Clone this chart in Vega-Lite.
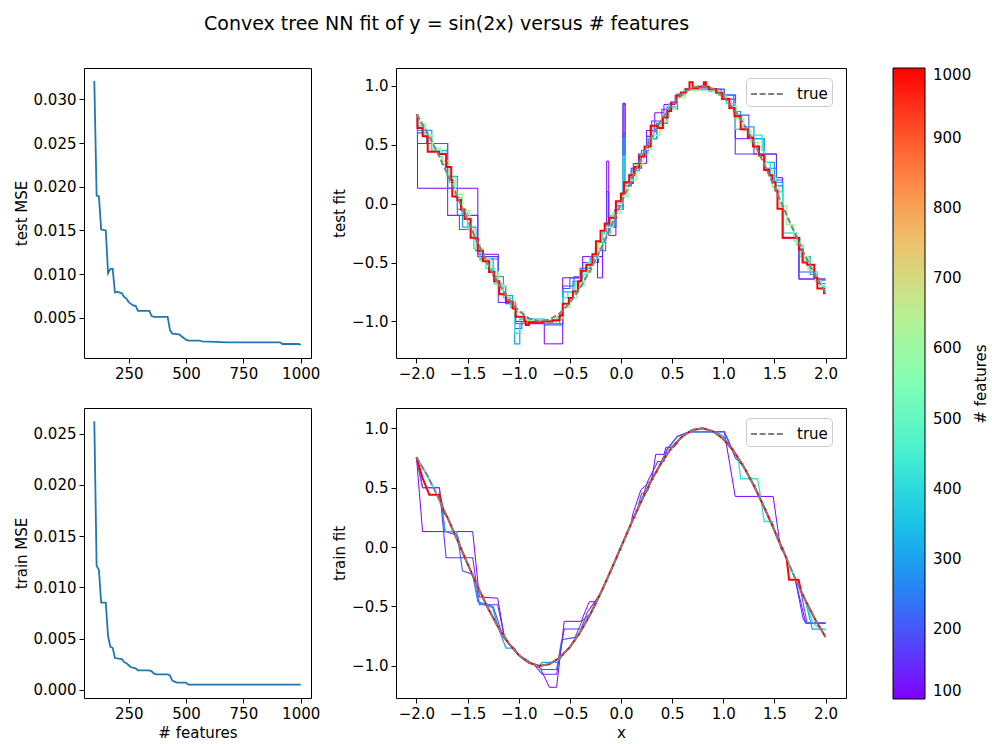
{
  "$schema": "https://vega.github.io/schema/vega-lite/v6.json",
  "padding": {"left": 13, "top": 14, "right": 0, "bottom": 5},
  "title": {"text": "Convex tree NN fit of y = sin(2x) versus # features", "fontSize": 19, "fontWeight": "normal", "font": "DejaVu Sans", "color": "#000", "anchor": "start", "frame": "group", "dx": 120, "offset": 34},
  "datasets": {
    "testMSE": [
      {"n":100,"mse":0.0321},{"n":110,"mse":0.0190},{"n":120,"mse":0.0189},{"n":130,"mse":0.0151},{"n":150,"mse":0.0150},{"n":160,"mse":0.0101},{"n":170,"mse":0.0106},{"n":180,"mse":0.0106},{"n":190,"mse":0.0079},{"n":200,"mse":0.0080},{"n":220,"mse":0.0078},{"n":230,"mse":0.0074},{"n":240,"mse":0.0072},{"n":250,"mse":0.0068},{"n":260,"mse":0.0066},{"n":270,"mse":0.0064},{"n":280,"mse":0.0064},{"n":290,"mse":0.0058},{"n":340,"mse":0.0058},{"n":350,"mse":0.0052},{"n":360,"mse":0.0051},{"n":420,"mse":0.0051},{"n":430,"mse":0.0036},{"n":440,"mse":0.0032},{"n":470,"mse":0.0031},{"n":480,"mse":0.0029},{"n":490,"mse":0.0027},{"n":500,"mse":0.0025},{"n":510,"mse":0.0024},{"n":560,"mse":0.0024},{"n":570,"mse":0.0023},{"n":680,"mse":0.0022},{"n":910,"mse":0.0022},{"n":920,"mse":0.0020},{"n":990,"mse":0.0020},{"n":1000,"mse":0.0019}
    ],
    "trainMSE": [
      {"n":100,"mse":0.0262},{"n":110,"mse":0.0121},{"n":120,"mse":0.0117},{"n":130,"mse":0.0085},{"n":150,"mse":0.0085},{"n":160,"mse":0.0052},{"n":170,"mse":0.0042},{"n":180,"mse":0.0041},{"n":190,"mse":0.0031},{"n":220,"mse":0.0030},{"n":230,"mse":0.0027},{"n":240,"mse":0.0026},{"n":250,"mse":0.0024},{"n":260,"mse":0.0022},{"n":280,"mse":0.0021},{"n":290,"mse":0.0019},{"n":340,"mse":0.0019},{"n":350,"mse":0.0018},{"n":360,"mse":0.0016},{"n":370,"mse":0.0015},{"n":420,"mse":0.0015},{"n":430,"mse":0.0014},{"n":440,"mse":0.0009},{"n":450,"mse":0.0008},{"n":460,"mse":0.0007},{"n":500,"mse":0.0007},{"n":510,"mse":0.0005},{"n":1000,"mse":0.0005}
    ],
    "trueCurve": [
      {"x":-2.0,"y":0.7568},{"x":-1.9,"y":0.6119},{"x":-1.8,"y":0.4425},{"x":-1.7,"y":0.2555},{"x":-1.6,"y":0.0584},{"x":-1.5,"y":-0.1411},{"x":-1.4,"y":-0.335},{"x":-1.3,"y":-0.5155},{"x":-1.2,"y":-0.6755},{"x":-1.1,"y":-0.8085},{"x":-1.0,"y":-0.9093},{"x":-0.9,"y":-0.9738},{"x":-0.8,"y":-0.9996},{"x":-0.7,"y":-0.9854},{"x":-0.6,"y":-0.932},{"x":-0.5,"y":-0.8415},{"x":-0.4,"y":-0.7174},{"x":-0.3,"y":-0.5646},{"x":-0.2,"y":-0.3894},{"x":-0.1,"y":-0.1987},{"x":0.0,"y":0.0},{"x":0.1,"y":0.1987},{"x":0.2,"y":0.3894},{"x":0.3,"y":0.5646},{"x":0.4,"y":0.7174},{"x":0.5,"y":0.8415},{"x":0.6,"y":0.932},{"x":0.7,"y":0.9854},{"x":0.8,"y":0.9996},{"x":0.9,"y":0.9738},{"x":1.0,"y":0.9093},{"x":1.1,"y":0.8085},{"x":1.2,"y":0.6755},{"x":1.3,"y":0.5155},{"x":1.4,"y":0.335},{"x":1.5,"y":0.1411},{"x":1.6,"y":-0.0584},{"x":1.7,"y":-0.2555},{"x":1.8,"y":-0.4425},{"x":1.9,"y":-0.6119},{"x":2.0,"y":-0.7568}
    ],
    "testFit": [
      {"features":100,"x":-2.0,"y":0.70},{"features":100,"x":-1.99,"y":0.13},{"features":100,"x":-1.40,"y":-0.43},{"features":100,"x":-1.20,"y":-0.70},{"features":100,"x":-1.13,"y":-0.85},{"features":100,"x":-1.03,"y":-1.00},{"features":100,"x":-0.75,"y":-1.19},{"features":100,"x":-0.57,"y":-0.63},{"features":100,"x":-0.375,"y":-0.45},{"features":100,"x":-0.23,"y":-0.63},{"features":100,"x":-0.18,"y":-0.30},{"features":100,"x":-0.14,"y":0.36},{"features":100,"x":-0.12,"y":-0.27},{"features":100,"x":-0.05,"y":-0.02},{"features":100,"x":0.02,"y":0.84},{"features":100,"x":0.04,"y":0.17},{"features":100,"x":0.12,"y":0.34},{"features":100,"x":0.25,"y":0.62},{"features":100,"x":0.33,"y":0.77},{"features":100,"x":0.42,"y":0.84},{"features":100,"x":0.53,"y":0.92},{"features":100,"x":0.63,"y":0.97},{"features":100,"x":0.98,"y":0.92},{"features":100,"x":1.117,"y":0.55},{"features":100,"x":1.30,"y":0.42},{"features":100,"x":1.52,"y":0.22},{"features":100,"x":1.58,"y":-0.29},{"features":100,"x":1.74,"y":-0.64},{"features":100,"x":2.0,"y":-0.64},
      {"features":150,"x":-2.0,"y":0.75},{"features":150,"x":-1.99,"y":0.51},{"features":150,"x":-1.695,"y":-0.10},{"features":150,"x":-1.40,"y":-0.45},{"features":150,"x":-1.20,"y":-0.84},{"features":150,"x":-1.03,"y":-1.02},{"features":150,"x":-0.75,"y":-1.02},{"features":150,"x":-0.57,"y":-0.70},{"features":150,"x":-0.46,"y":-0.62},{"features":150,"x":-0.375,"y":-0.50},{"features":150,"x":-0.22,"y":-0.45},{"features":150,"x":-0.18,"y":-0.25},{"features":150,"x":-0.14,"y":0.10},{"features":150,"x":-0.12,"y":-0.20},{"features":150,"x":-0.06,"y":-0.05},{"features":150,"x":0.02,"y":0.85},{"features":150,"x":0.04,"y":0.15},{"features":150,"x":0.10,"y":0.30},{"features":150,"x":0.17,"y":0.42},{"features":150,"x":0.25,"y":0.57},{"features":150,"x":0.30,"y":0.70},{"features":150,"x":0.40,"y":0.80},{"features":150,"x":0.55,"y":0.93},{"features":150,"x":0.62,"y":0.97},{"features":150,"x":1.01,"y":0.886},{"features":150,"x":1.117,"y":0.42},{"features":150,"x":1.52,"y":0.20},{"features":150,"x":1.58,"y":-0.29},{"features":150,"x":1.74,"y":-0.64},{"features":150,"x":2.0,"y":-0.64},
      {"features":200,"x":-2.0,"y":0.75},{"features":200,"x":-1.99,"y":0.60},{"features":200,"x":-1.90,"y":0.51},{"features":200,"x":-1.695,"y":0.13},{"features":200,"x":-1.60,"y":-0.10},{"features":200,"x":-1.58,"y":-0.22},{"features":200,"x":-1.42,"y":-0.40},{"features":200,"x":-1.38,"y":-0.47},{"features":200,"x":-1.20,"y":-0.70},{"features":200,"x":-1.12,"y":-0.84},{"features":200,"x":-1.04,"y":-1.06},{"features":200,"x":-0.97,"y":-1.00},{"features":200,"x":-0.75,"y":-1.03},{"features":200,"x":-0.57,"y":-0.72},{"features":200,"x":-0.50,"y":-0.63},{"features":200,"x":-0.40,"y":-0.55},{"features":200,"x":-0.30,"y":-0.47},{"features":200,"x":-0.22,"y":-0.40},{"features":200,"x":-0.15,"y":-0.20},{"features":200,"x":-0.05,"y":0.00},{"features":200,"x":0.02,"y":0.60},{"features":200,"x":0.04,"y":0.18},{"features":200,"x":0.12,"y":0.30},{"features":200,"x":0.20,"y":0.45},{"features":200,"x":0.27,"y":0.55},{"features":200,"x":0.35,"y":0.68},{"features":200,"x":0.45,"y":0.80},{"features":200,"x":0.55,"y":0.92},{"features":200,"x":0.62,"y":0.97},{"features":200,"x":1.01,"y":0.92},{"features":200,"x":1.12,"y":0.75},{"features":200,"x":1.25,"y":0.55},{"features":200,"x":1.40,"y":0.30},{"features":200,"x":1.52,"y":0.15},{"features":200,"x":1.58,"y":-0.29},{"features":200,"x":1.74,"y":-0.58},{"features":200,"x":1.90,"y":-0.65},{"features":200,"x":2.0,"y":-0.65},
      {"features":300,"x":-2.0,"y":0.72},{"features":300,"x":-1.99,"y":0.62},{"features":300,"x":-1.85,"y":0.45},{"features":300,"x":-1.70,"y":0.23},{"features":300,"x":-1.60,"y":-0.05},{"features":300,"x":-1.55,"y":-0.20},{"features":300,"x":-1.42,"y":-0.35},{"features":300,"x":-1.38,"y":-0.47},{"features":300,"x":-1.25,"y":-0.62},{"features":300,"x":-1.15,"y":-0.78},{"features":300,"x":-1.06,"y":-0.88},{"features":300,"x":-1.04,"y":-1.19},{"features":300,"x":-0.99,"y":-0.98},{"features":300,"x":-0.75,"y":-1.02},{"features":300,"x":-0.60,"y":-0.94},{"features":300,"x":-0.57,"y":-0.75},{"features":300,"x":-0.47,"y":-0.66},{"features":300,"x":-0.38,"y":-0.55},{"features":300,"x":-0.30,"y":-0.45},{"features":300,"x":-0.22,"y":-0.33},{"features":300,"x":-0.15,"y":-0.18},{"features":300,"x":-0.05,"y":-0.05},{"features":300,"x":0.02,"y":0.55},{"features":300,"x":0.04,"y":0.17},{"features":300,"x":0.10,"y":0.28},{"features":300,"x":0.18,"y":0.42},{"features":300,"x":0.26,"y":0.55},{"features":300,"x":0.35,"y":0.68},{"features":300,"x":0.45,"y":0.82},{"features":300,"x":0.55,"y":0.92},{"features":300,"x":0.62,"y":0.96},{"features":300,"x":0.85,"y":0.97},{"features":300,"x":0.97,"y":0.92},{"features":300,"x":1.10,"y":0.78},{"features":300,"x":1.17,"y":0.65},{"features":300,"x":1.30,"y":0.55},{"features":300,"x":1.40,"y":0.35},{"features":300,"x":1.50,"y":0.18},{"features":300,"x":1.58,"y":-0.29},{"features":300,"x":1.75,"y":-0.45},{"features":300,"x":1.85,"y":-0.60},{"features":300,"x":1.92,"y":-0.68},{"features":300,"x":2.0,"y":-0.68},
      {"features":420,"x":-2.0,"y":0.72},{"features":420,"x":-1.99,"y":0.66},{"features":420,"x":-1.93,"y":0.58},{"features":420,"x":-1.85,"y":0.45},{"features":420,"x":-1.75,"y":0.33},{"features":420,"x":-1.68,"y":0.18},{"features":420,"x":-1.62,"y":0.05},{"features":420,"x":-1.56,"y":-0.08},{"features":420,"x":-1.50,"y":-0.22},{"features":420,"x":-1.44,"y":-0.38},{"features":420,"x":-1.38,"y":-0.48},{"features":420,"x":-1.32,"y":-0.55},{"features":420,"x":-1.24,"y":-0.68},{"features":420,"x":-1.15,"y":-0.80},{"features":420,"x":-1.08,"y":-0.88},{"features":420,"x":-1.04,"y":-1.10},{"features":420,"x":-0.99,"y":-0.98},{"features":420,"x":-0.80,"y":-1.00},{"features":420,"x":-0.62,"y":-0.96},{"features":420,"x":-0.57,"y":-0.80},{"features":420,"x":-0.52,"y":-0.75},{"features":420,"x":-0.45,"y":-0.68},{"features":420,"x":-0.40,"y":-0.60},{"features":420,"x":-0.33,"y":-0.50},{"features":420,"x":-0.25,"y":-0.38},{"features":420,"x":-0.18,"y":-0.25},{"features":420,"x":-0.10,"y":-0.10},{"features":420,"x":-0.05,"y":0.0},{"features":420,"x":0.02,"y":0.40},{"features":420,"x":0.04,"y":0.15},{"features":420,"x":0.08,"y":0.25},{"features":420,"x":0.14,"y":0.33},{"features":420,"x":0.20,"y":0.42},{"features":420,"x":0.26,"y":0.55},{"features":420,"x":0.32,"y":0.66},{"features":420,"x":0.40,"y":0.75},{"features":420,"x":0.47,"y":0.85},{"features":420,"x":0.55,"y":0.92},{"features":420,"x":0.63,"y":0.96},{"features":420,"x":0.86,"y":0.95},{"features":420,"x":0.95,"y":0.92},{"features":420,"x":1.03,"y":0.85},{"features":420,"x":1.117,"y":0.63},{"features":420,"x":1.24,"y":0.58},{"features":420,"x":1.38,"y":0.45},{"features":420,"x":1.40,"y":0.35},{"features":420,"x":1.46,"y":0.22},{"features":420,"x":1.52,"y":0.10},{"features":420,"x":1.58,"y":-0.25},{"features":420,"x":1.72,"y":-0.35},{"features":420,"x":1.78,"y":-0.48},{"features":420,"x":1.85,"y":-0.58},{"features":420,"x":1.92,"y":-0.66},{"features":420,"x":1.96,"y":-0.70},{"features":420,"x":2.0,"y":-0.70},
      {"features":600,"x":-2.0,"y":0.74},{"features":600,"x":-1.97,"y":0.68},{"features":600,"x":-1.91,"y":0.58},{"features":600,"x":-1.84,"y":0.47},{"features":600,"x":-1.76,"y":0.36},{"features":600,"x":-1.68,"y":0.22},{"features":600,"x":-1.62,"y":0.08},{"features":600,"x":-1.55,"y":-0.06},{"features":600,"x":-1.48,"y":-0.22},{"features":600,"x":-1.42,"y":-0.38},{"features":600,"x":-1.35,"y":-0.47},{"features":600,"x":-1.28,"y":-0.58},{"features":600,"x":-1.20,"y":-0.70},{"features":600,"x":-1.12,"y":-0.82},{"features":600,"x":-1.04,"y":-0.92},{"features":600,"x":-0.95,"y":-0.99},{"features":600,"x":-0.65,"y":-0.97},{"features":600,"x":-0.57,"y":-0.88},{"features":600,"x":-0.50,"y":-0.80},{"features":600,"x":-0.43,"y":-0.70},{"features":600,"x":-0.36,"y":-0.58},{"features":600,"x":-0.29,"y":-0.46},{"features":600,"x":-0.22,"y":-0.32},{"features":600,"x":-0.15,"y":-0.20},{"features":600,"x":-0.08,"y":-0.08},{"features":600,"x":0.0,"y":0.06},{"features":600,"x":0.07,"y":0.20},{"features":600,"x":0.15,"y":0.33},{"features":600,"x":0.22,"y":0.46},{"features":600,"x":0.30,"y":0.58},{"features":600,"x":0.38,"y":0.70},{"features":600,"x":0.46,"y":0.80},{"features":600,"x":0.54,"y":0.90},{"features":600,"x":0.62,"y":0.96},{"features":600,"x":0.90,"y":0.95},{"features":600,"x":0.98,"y":0.90},{"features":600,"x":1.06,"y":0.82},{"features":600,"x":1.13,"y":0.72},{"features":600,"x":1.20,"y":0.62},{"features":600,"x":1.27,"y":0.52},{"features":600,"x":1.34,"y":0.40},{"features":600,"x":1.41,"y":0.28},{"features":600,"x":1.48,"y":0.14},{"features":600,"x":1.55,"y":-0.02},{"features":600,"x":1.62,"y":-0.18},{"features":600,"x":1.69,"y":-0.32},{"features":600,"x":1.76,"y":-0.45},{"features":600,"x":1.83,"y":-0.56},{"features":600,"x":1.90,"y":-0.66},{"features":600,"x":1.96,"y":-0.73},{"features":600,"x":2.0,"y":-0.73},
      {"features":1000,"x":-2.0,"y":0.75},{"features":1000,"x":-1.99,"y":0.64},{"features":1000,"x":-1.94,"y":0.57},{"features":1000,"x":-1.89,"y":0.44},{"features":1000,"x":-1.78,"y":0.42},{"features":1000,"x":-1.71,"y":0.31},{"features":1000,"x":-1.66,"y":0.20},{"features":1000,"x":-1.65,"y":0.06},{"features":1000,"x":-1.60,"y":0.03},{"features":1000,"x":-1.565,"y":-0.05},{"features":1000,"x":-1.53,"y":-0.13},{"features":1000,"x":-1.47,"y":-0.29},{"features":1000,"x":-1.42,"y":-0.30},{"features":1000,"x":-1.40,"y":-0.40},{"features":1000,"x":-1.35,"y":-0.49},{"features":1000,"x":-1.29,"y":-0.58},{"features":1000,"x":-1.24,"y":-0.66},{"features":1000,"x":-1.19,"y":-0.77},{"features":1000,"x":-1.125,"y":-0.83},{"features":1000,"x":-1.06,"y":-0.89},{"features":1000,"x":-1.03,"y":-0.96},{"features":1000,"x":-0.945,"y":-1.00},{"features":1000,"x":-0.93,"y":-1.03},{"features":1000,"x":-0.90,"y":-1.01},{"features":1000,"x":-0.77,"y":-1.00},{"features":1000,"x":-0.67,"y":-0.99},{"features":1000,"x":-0.60,"y":-0.95},{"features":1000,"x":-0.57,"y":-0.85},{"features":1000,"x":-0.51,"y":-0.80},{"features":1000,"x":-0.47,"y":-0.745},{"features":1000,"x":-0.42,"y":-0.66},{"features":1000,"x":-0.39,"y":-0.57},{"features":1000,"x":-0.34,"y":-0.52},{"features":1000,"x":-0.28,"y":-0.43},{"features":1000,"x":-0.245,"y":-0.32},{"features":1000,"x":-0.20,"y":-0.23},{"features":1000,"x":-0.16,"y":-0.17},{"features":1000,"x":-0.115,"y":-0.12},{"features":1000,"x":-0.05,"y":0.02},{"features":1000,"x":0.0,"y":0.085},{"features":1000,"x":0.03,"y":0.18},{"features":1000,"x":0.08,"y":0.24},{"features":1000,"x":0.13,"y":0.31},{"features":1000,"x":0.18,"y":0.40},{"features":1000,"x":0.23,"y":0.485},{"features":1000,"x":0.29,"y":0.66},{"features":1000,"x":0.36,"y":0.64},{"features":1000,"x":0.41,"y":0.73},{"features":1000,"x":0.455,"y":0.785},{"features":1000,"x":0.49,"y":0.857},{"features":1000,"x":0.54,"y":0.914},{"features":1000,"x":0.585,"y":0.943},{"features":1000,"x":0.634,"y":0.97},{"features":1000,"x":0.67,"y":1.03},{"features":1000,"x":0.70,"y":0.98},{"features":1000,"x":0.75,"y":0.99},{"features":1000,"x":0.81,"y":1.03},{"features":1000,"x":0.83,"y":0.99},{"features":1000,"x":0.86,"y":0.97},{"features":1000,"x":0.93,"y":0.94},{"features":1000,"x":0.99,"y":0.886},{"features":1000,"x":1.06,"y":0.81},{"features":1000,"x":1.11,"y":0.74},{"features":1000,"x":1.17,"y":0.63},{"features":1000,"x":1.24,"y":0.56},{"features":1000,"x":1.29,"y":0.485},{"features":1000,"x":1.35,"y":0.41},{"features":1000,"x":1.40,"y":0.285},{"features":1000,"x":1.45,"y":0.24},{"features":1000,"x":1.48,"y":0.18},{"features":1000,"x":1.51,"y":0.11},{"features":1000,"x":1.53,"y":-0.045},{"features":1000,"x":1.58,"y":-0.29},{"features":1000,"x":1.74,"y":-0.39},{"features":1000,"x":1.775,"y":-0.50},{"features":1000,"x":1.82,"y":-0.52},{"features":1000,"x":1.89,"y":-0.63},{"features":1000,"x":1.92,"y":-0.72},{"features":1000,"x":1.985,"y":-0.76},{"features":1000,"x":2.0,"y":-0.76}
    ],
    "trainFit": [
      {"features":100,"x":-2.0,"y":0.757},{"features":100,"x":-1.94,"y":0.13},{"features":100,"x":-1.45,"y":0.13},{"features":100,"x":-1.385,"y":-0.42},{"features":100,"x":-1.206,"y":-0.43},{"features":100,"x":-1.14,"y":-0.76},{"features":100,"x":-1.0,"y":-0.91},{"features":100,"x":-0.9,"y":-0.97},{"features":100,"x":-0.8,"y":-1.0},{"features":100,"x":-0.70,"y":-1.18},{"features":100,"x":-0.63,"y":-1.18},{"features":100,"x":-0.555,"y":-0.625},{"features":100,"x":-0.39,"y":-0.625},{"features":100,"x":-0.31,"y":-0.46},{"features":100,"x":-0.25,"y":-0.46},{"features":100,"x":-0.2,"y":-0.39},{"features":100,"x":-0.1,"y":-0.2},{"features":100,"x":0.0,"y":0.0},{"features":100,"x":0.1,"y":0.2},{"features":100,"x":0.113,"y":0.27},{"features":100,"x":0.194,"y":0.48},{"features":100,"x":0.30,"y":0.565},{"features":100,"x":0.34,"y":0.78},{"features":100,"x":0.42,"y":0.78},{"features":100,"x":0.44,"y":0.84},{"features":100,"x":0.52,"y":0.84},{"features":100,"x":0.60,"y":0.93},{"features":100,"x":0.667,"y":0.97},{"features":100,"x":1.01,"y":0.97},{"features":100,"x":1.117,"y":0.426},{"features":100,"x":1.488,"y":0.426},{"features":100,"x":1.56,"y":-0.01},{"features":100,"x":1.6,"y":-0.06},{"features":100,"x":1.7,"y":-0.26},{"features":100,"x":1.807,"y":-0.64},{"features":100,"x":2.0,"y":-0.64},
      {"features":150,"x":-2.0,"y":0.757},{"features":150,"x":-1.94,"y":0.50},{"features":150,"x":-1.776,"y":0.50},{"features":150,"x":-1.71,"y":-0.09},{"features":150,"x":-1.45,"y":-0.09},{"features":150,"x":-1.385,"y":-0.485},{"features":150,"x":-1.206,"y":-0.485},{"features":150,"x":-1.14,"y":-0.76},{"features":150,"x":-1.0,"y":-0.91},{"features":150,"x":-0.85,"y":-0.99},{"features":150,"x":-0.77,"y":-1.07},{"features":150,"x":-0.63,"y":-1.07},{"features":150,"x":-0.555,"y":-0.69},{"features":150,"x":-0.39,"y":-0.69},{"features":150,"x":-0.33,"y":-0.55},{"features":150,"x":-0.2,"y":-0.39},{"features":150,"x":-0.1,"y":-0.2},{"features":150,"x":0.0,"y":0.0},{"features":150,"x":0.1,"y":0.2},{"features":150,"x":0.2,"y":0.39},{"features":150,"x":0.26,"y":0.55},{"features":150,"x":0.36,"y":0.72},{"features":150,"x":0.42,"y":0.72},{"features":150,"x":0.45,"y":0.82},{"features":150,"x":0.55,"y":0.93},{"features":150,"x":0.667,"y":0.97},{"features":150,"x":1.01,"y":0.97},{"features":150,"x":1.05,"y":0.90},{"features":150,"x":1.117,"y":0.75},{"features":150,"x":1.2,"y":0.676},{"features":150,"x":1.3,"y":0.52},{"features":150,"x":1.4,"y":0.335},{"features":150,"x":1.5,"y":0.141},{"features":150,"x":1.6,"y":-0.058},{"features":150,"x":1.7,"y":-0.26},{"features":150,"x":1.78,"y":-0.60},{"features":150,"x":1.807,"y":-0.64},{"features":150,"x":2.0,"y":-0.64},
      {"features":200,"x":-2.0,"y":0.757},{"features":200,"x":-1.94,"y":0.50},{"features":200,"x":-1.776,"y":0.50},{"features":200,"x":-1.72,"y":0.13},{"features":200,"x":-1.60,"y":0.10},{"features":200,"x":-1.55,"y":-0.20},{"features":200,"x":-1.45,"y":-0.23},{"features":200,"x":-1.40,"y":-0.46},{"features":200,"x":-1.25,"y":-0.50},{"features":200,"x":-1.15,"y":-0.76},{"features":200,"x":-1.0,"y":-0.91},{"features":200,"x":-0.85,"y":-0.99},{"features":200,"x":-0.77,"y":-1.03},{"features":200,"x":-0.63,"y":-1.03},{"features":200,"x":-0.58,"y":-0.78},{"features":200,"x":-0.45,"y":-0.76},{"features":200,"x":-0.38,"y":-0.62},{"features":200,"x":-0.30,"y":-0.56},{"features":200,"x":-0.2,"y":-0.39},{"features":200,"x":-0.1,"y":-0.2},{"features":200,"x":0.0,"y":0.0},{"features":200,"x":0.1,"y":0.2},{"features":200,"x":0.16,"y":0.32},{"features":200,"x":0.2,"y":0.45},{"features":200,"x":0.26,"y":0.47},{"features":200,"x":0.30,"y":0.58},{"features":200,"x":0.36,"y":0.66},{"features":200,"x":0.45,"y":0.82},{"features":200,"x":0.55,"y":0.93},{"features":200,"x":0.667,"y":0.97},{"features":200,"x":1.01,"y":0.97},{"features":200,"x":1.06,"y":0.87},{"features":200,"x":1.2,"y":0.676},{"features":200,"x":1.3,"y":0.52},{"features":200,"x":1.4,"y":0.335},{"features":200,"x":1.5,"y":0.141},{"features":200,"x":1.6,"y":-0.058},{"features":200,"x":1.7,"y":-0.26},{"features":200,"x":1.76,"y":-0.38},{"features":200,"x":1.82,"y":-0.64},{"features":200,"x":2.0,"y":-0.64},
      {"features":300,"x":-2.0,"y":0.757},{"features":300,"x":-1.9,"y":0.61},{"features":300,"x":-1.8,"y":0.44},{"features":300,"x":-1.75,"y":0.33},{"features":300,"x":-1.72,"y":0.13},{"features":300,"x":-1.61,"y":0.13},{"features":300,"x":-1.55,"y":-0.05},{"features":300,"x":-1.5,"y":-0.14},{"features":300,"x":-1.45,"y":-0.24},{"features":300,"x":-1.385,"y":-0.47},{"features":300,"x":-1.255,"y":-0.51},{"features":300,"x":-1.2,"y":-0.68},{"features":300,"x":-1.125,"y":-0.85},{"features":300,"x":-1.04,"y":-0.85},{"features":300,"x":-1.0,"y":-0.91},{"features":300,"x":-0.9,"y":-0.974},{"features":300,"x":-0.8,"y":-1.0},{"features":300,"x":-0.77,"y":-0.97},{"features":300,"x":-0.62,"y":-0.97},{"features":300,"x":-0.55,"y":-0.88},{"features":300,"x":-0.5,"y":-0.84},{"features":300,"x":-0.4,"y":-0.72},{"features":300,"x":-0.3,"y":-0.565},{"features":300,"x":-0.2,"y":-0.39},{"features":300,"x":-0.1,"y":-0.2},{"features":300,"x":0.0,"y":0.0},{"features":300,"x":0.1,"y":0.2},{"features":300,"x":0.2,"y":0.389},{"features":300,"x":0.3,"y":0.565},{"features":300,"x":0.4,"y":0.717},{"features":300,"x":0.5,"y":0.84},{"features":300,"x":0.6,"y":0.93},{"features":300,"x":0.667,"y":0.97},{"features":300,"x":0.93,"y":0.97},{"features":300,"x":1.0,"y":0.93},{"features":300,"x":1.1,"y":0.81},{"features":300,"x":1.2,"y":0.676},{"features":300,"x":1.3,"y":0.52},{"features":300,"x":1.4,"y":0.335},{"features":300,"x":1.5,"y":0.141},{"features":300,"x":1.6,"y":-0.058},{"features":300,"x":1.7,"y":-0.26},{"features":300,"x":1.8,"y":-0.44},{"features":300,"x":1.87,"y":-0.69},{"features":300,"x":2.0,"y":-0.69},
      {"features":420,"x":-2.0,"y":0.757},{"features":420,"x":-1.9,"y":0.61},{"features":420,"x":-1.8,"y":0.44},{"features":420,"x":-1.7,"y":0.256},{"features":420,"x":-1.6,"y":0.058},{"features":420,"x":-1.5,"y":-0.141},{"features":420,"x":-1.4,"y":-0.335},{"features":420,"x":-1.3,"y":-0.516},{"features":420,"x":-1.2,"y":-0.676},{"features":420,"x":-1.1,"y":-0.81},{"features":420,"x":-1.0,"y":-0.91},{"features":420,"x":-0.9,"y":-0.974},{"features":420,"x":-0.8,"y":-1.0},{"features":420,"x":-0.7,"y":-0.985},{"features":420,"x":-0.6,"y":-0.932},{"features":420,"x":-0.5,"y":-0.842},{"features":420,"x":-0.4,"y":-0.717},{"features":420,"x":-0.3,"y":-0.565},{"features":420,"x":-0.2,"y":-0.389},{"features":420,"x":-0.1,"y":-0.199},{"features":420,"x":0.0,"y":0.0},{"features":420,"x":0.1,"y":0.199},{"features":420,"x":0.2,"y":0.389},{"features":420,"x":0.3,"y":0.565},{"features":420,"x":0.4,"y":0.717},{"features":420,"x":0.5,"y":0.842},{"features":420,"x":0.6,"y":0.932},{"features":420,"x":0.7,"y":0.985},{"features":420,"x":0.8,"y":1.0},{"features":420,"x":0.9,"y":0.974},{"features":420,"x":1.0,"y":0.909},{"features":420,"x":1.1,"y":0.81},{"features":420,"x":1.15,"y":0.72},{"features":420,"x":1.17,"y":0.575},{"features":420,"x":1.335,"y":0.575},{"features":420,"x":1.36,"y":0.45},{"features":420,"x":1.40,"y":0.215},{"features":420,"x":1.48,"y":0.215},{"features":420,"x":1.52,"y":0.08},{"features":420,"x":1.6,"y":-0.058},{"features":420,"x":1.7,"y":-0.256},{"features":420,"x":1.8,"y":-0.443},{"features":420,"x":1.87,"y":-0.62},{"features":420,"x":1.9,"y":-0.66},{"features":420,"x":2.0,"y":-0.70},
      {"features":1000,"x":-2.0,"y":0.757},{"features":1000,"x":-1.94,"y":0.58},{"features":1000,"x":-1.874,"y":0.44},{"features":1000,"x":-1.776,"y":0.44},{"features":1000,"x":-1.73,"y":0.29},{"features":1000,"x":-1.7,"y":0.2555},{"features":1000,"x":-1.6,"y":0.058},{"features":1000,"x":-1.5,"y":-0.141},{"features":1000,"x":-1.4,"y":-0.335},{"features":1000,"x":-1.3,"y":-0.5155},{"features":1000,"x":-1.2,"y":-0.6755},{"features":1000,"x":-1.1,"y":-0.8085},{"features":1000,"x":-1.0,"y":-0.909},{"features":1000,"x":-0.9,"y":-0.974},{"features":1000,"x":-0.8,"y":-1.0},{"features":1000,"x":-0.7,"y":-0.985},{"features":1000,"x":-0.6,"y":-0.932},{"features":1000,"x":-0.5,"y":-0.8415},{"features":1000,"x":-0.4,"y":-0.717},{"features":1000,"x":-0.3,"y":-0.565},{"features":1000,"x":-0.2,"y":-0.389},{"features":1000,"x":-0.1,"y":-0.199},{"features":1000,"x":0.0,"y":0.0},{"features":1000,"x":0.1,"y":0.199},{"features":1000,"x":0.2,"y":0.389},{"features":1000,"x":0.3,"y":0.565},{"features":1000,"x":0.4,"y":0.717},{"features":1000,"x":0.5,"y":0.8415},{"features":1000,"x":0.6,"y":0.932},{"features":1000,"x":0.7,"y":0.985},{"features":1000,"x":0.8,"y":1.0},{"features":1000,"x":0.9,"y":0.974},{"features":1000,"x":1.0,"y":0.909},{"features":1000,"x":1.1,"y":0.8085},{"features":1000,"x":1.2,"y":0.6755},{"features":1000,"x":1.3,"y":0.5155},{"features":1000,"x":1.4,"y":0.335},{"features":1000,"x":1.5,"y":0.141},{"features":1000,"x":1.6,"y":-0.058},{"features":1000,"x":1.62,"y":-0.10},{"features":1000,"x":1.644,"y":-0.275},{"features":1000,"x":1.736,"y":-0.275},{"features":1000,"x":1.76,"y":-0.37},{"features":1000,"x":1.8,"y":-0.4425},{"features":1000,"x":1.9,"y":-0.612},{"features":1000,"x":2.0,"y":-0.757}
    ]
  },
  "columns": 2,
  "spacing": {"row": 50, "column": 85},
  "bounds": "flush",
  "resolve": {"legend": {"strokeDash": "independent"}},
  "concat": [
    {
      "width": 227, "height": 290,
      "data": {"name": "testMSE"},
      "mark": {"type": "line", "color": "#1f77b4", "strokeWidth": 1.8},
      "encoding": {
        "x": {"field": "n", "type": "quantitative", "scale": {"domain": [55, 1045], "nice": false, "zero": false}, "axis": {"values": [250, 500, 750, 1000], "format": "d", "title": null}},
        "y": {"field": "mse", "type": "quantitative", "scale": {"domain": [0.0004, 0.0336], "nice": false, "zero": false}, "axis": {"values": [0.005, 0.01, 0.015, 0.02, 0.025, 0.03], "format": ".3f", "title": "test MSE"}}
      }
    },
    {
      "width": 450, "height": 290,
      "layer": [
        {
          "data": {"name": "testFit"},
          "mark": {"type": "line", "interpolate": "step-after"},
          "encoding": {
            "x": {"field": "x", "type": "quantitative", "scale": {"domain": [-2.2, 2.2], "nice": false, "zero": false}, "axis": {"values": [-2, -1.5, -1, -0.5, 0, 0.5, 1, 1.5, 2], "format": ".1f", "title": null}},
            "y": {"field": "y", "type": "quantitative", "scale": {"domain": [-1.31, 1.15], "nice": false, "zero": false}, "axis": {"values": [-1, -0.5, 0, 0.5, 1], "format": ".1f", "title": "test fit"}},
            "detail": {"field": "features", "type": "quantitative"},
            "color": {"field": "features", "type": "quantitative",
              "scale": {"domain": [100, 190, 280, 370, 460, 550, 640, 730, 820, 910, 1000], "range": ["#8000ff", "#4d4ffc", "#1a96f3", "#1acee3", "#4df3ce", "#80ffb4", "#b3f396", "#e6ce74", "#ff964f", "#ff4f28", "#ff0000"], "interpolate": "rgb"},
              "legend": {"title": "# features", "orient": "right", "offset": 46, "padding": 0, "strokeColor": "transparent", "fillColor": "transparent", "direction": "vertical", "gradientLength": 631, "gradientThickness": 32, "gradientStrokeColor": "#000", "gradientStrokeWidth": 1, "values": [100, 200, 300, 400, 500, 600, 700, 800, 900, 1000], "format": "d", "labelOverlap": false, "labelOffset": 8, "labelFontSize": 15, "titleFontSize": 15, "titleOrient": "right", "titleAnchor": "middle", "titlePadding": 3, "encode": {"title": {"update": {"angle": {"value": 270}, "baseline": {"value": "top"}}}}}},
            "size": {"field": "features", "type": "quantitative", "scale": {"domain": [100, 1000], "range": [1, 2]}, "legend": null}
          }
        },
        {
          "data": {"name": "trueCurve"},
          "mark": {"type": "line", "color": "#808080", "strokeWidth": 2},
          "encoding": {
            "x": {"field": "x", "type": "quantitative"},
            "y": {"field": "y", "type": "quantitative"},
            "strokeDash": {"datum": "true", "type": "nominal", "scale": {"domain": ["true"], "range": [[6, 2.6]]}, "legend": {"title": null, "orient": "none", "legendX": 350, "legendY": 10, "padding": 4, "strokeColor": "#cccccc", "fillColor": "#ffffff", "cornerRadius": 4, "labelOffset": 23, "symbolType": "M-1,0L2,0", "symbolStrokeColor": "#808080", "symbolStrokeWidth": 2, "symbolSize": 484}}
          }
        }
      ]
    },
    {
      "width": 227, "height": 290,
      "data": {"name": "trainMSE"},
      "mark": {"type": "line", "color": "#1f77b4", "strokeWidth": 1.8},
      "encoding": {
        "x": {"field": "n", "type": "quantitative", "scale": {"domain": [55, 1045], "nice": false, "zero": false}, "axis": {"values": [250, 500, 750, 1000], "format": "d", "title": "# features"}},
        "y": {"field": "mse", "type": "quantitative", "scale": {"domain": [-0.0008, 0.0275], "nice": false, "zero": false}, "axis": {"values": [0, 0.005, 0.01, 0.015, 0.02, 0.025], "format": ".3f", "title": "train MSE"}}
      }
    },
    {
      "width": 450, "height": 290,
      "layer": [
        {
          "data": {"name": "trainFit"},
          "mark": {"type": "line"},
          "encoding": {
            "x": {"field": "x", "type": "quantitative", "scale": {"domain": [-2.2, 2.2], "nice": false, "zero": false}, "axis": {"values": [-2, -1.5, -1, -0.5, 0, 0.5, 1, 1.5, 2], "format": ".1f", "title": "x"}},
            "y": {"field": "y", "type": "quantitative", "scale": {"domain": [-1.27, 1.17], "nice": false, "zero": false}, "axis": {"values": [-1, -0.5, 0, 0.5, 1], "format": ".1f", "title": "train fit"}},
            "detail": {"field": "features", "type": "quantitative"},
            "color": {"field": "features", "type": "quantitative"},
            "size": {"field": "features", "type": "quantitative", "scale": {"domain": [100, 1000], "range": [1, 2]}, "legend": null}
          }
        },
        {
          "data": {"name": "trueCurve"},
          "mark": {"type": "line", "color": "#808080", "strokeWidth": 2},
          "encoding": {
            "x": {"field": "x", "type": "quantitative"},
            "y": {"field": "y", "type": "quantitative"},
            "strokeDash": {"datum": "true", "type": "nominal", "legend": {"title": null, "orient": "none", "legendX": 350, "legendY": 10, "padding": 4, "strokeColor": "#cccccc", "fillColor": "#ffffff", "cornerRadius": 4, "labelOffset": 23, "symbolType": "M-1,0L2,0", "symbolStrokeColor": "#808080", "symbolStrokeWidth": 2, "symbolSize": 484}}
          }
        }
      ]
    }
  ],
  "config": {
    "font": "DejaVu Sans",
    "view": {"stroke": "#000", "strokeWidth": 1},
    "axis": {"domain": false, "grid": false, "ticks": true, "tickColor": "#000", "tickSize": 5, "tickWidth": 1, "labelFontSize": 15, "labelColor": "#000", "labelPadding": 3, "labelFlush": false, "labelOverlap": false, "titleFontSize": 15, "titleFontWeight": "normal", "titleColor": "#000"},
    "legend": {"labelFontSize": 15, "labelColor": "#000", "titleFontSize": 15, "titleFontWeight": "normal", "titleColor": "#000", "gradientVerticalMaxLength": 700}
  }
}
